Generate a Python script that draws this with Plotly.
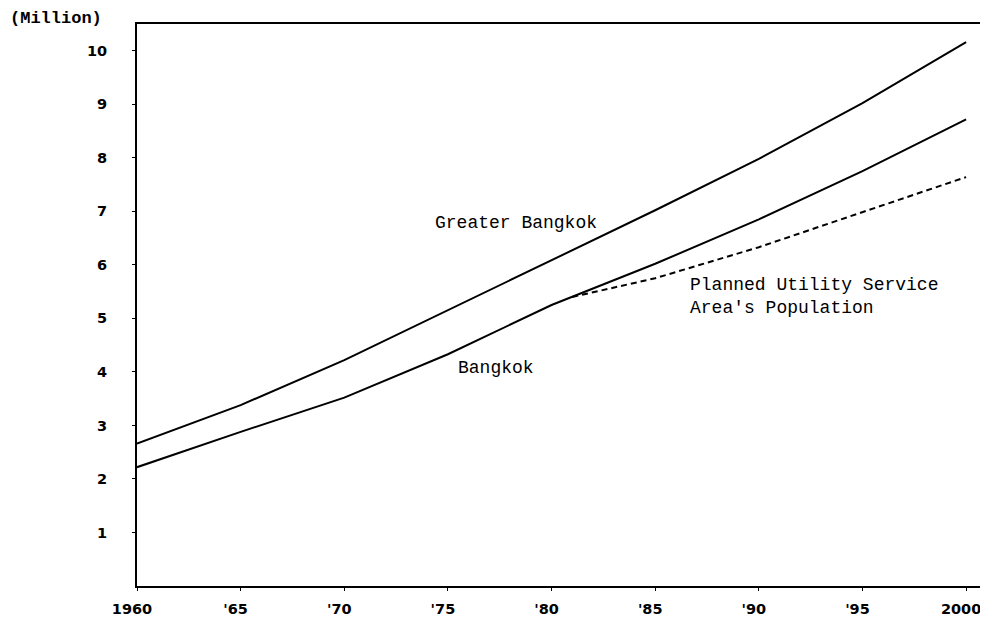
import plotly.graph_objects as go

years = [1960, 1965, 1970, 1975, 1980, 1985, 1990, 1995, 2000]
greater_bangkok = [2.66, 3.38, 4.22, 5.15, 6.08, 7.02, 7.98, 9.02, 10.16]
bangkok = [2.22, 2.88, 3.52, 4.33, 5.25, 6.02, 6.85, 7.75, 8.72]
planned_years = [1981, 1985, 1990, 1995, 2000]
planned = [5.40, 5.75, 6.33, 6.98, 7.64]

x_tickvals = [1960, 1965, 1970, 1975, 1980, 1985, 1990, 1995, 2000]
x_ticktext = ["1960", "'65", "'70", "'75", "'80", "'85", "'90", "'95", "2000"]
y_tickvals = [1, 2, 3, 4, 5, 6, 7, 8, 9, 10]

fig = go.Figure()
fig.add_trace(go.Scatter(x=years, y=greater_bangkok, mode="lines",
                         line=dict(color="black", width=2), name="Greater Bangkok"))
fig.add_trace(go.Scatter(x=years, y=bangkok, mode="lines",
                         line=dict(color="black", width=2), name="Bangkok"))
fig.add_trace(go.Scatter(x=planned_years, y=planned, mode="lines",
                         line=dict(color="black", width=2, dash="6px,4px"),
                         name="Planned Utility Service Area's Population"))

mono = "Liberation Mono, Courier New, monospace"
xtickfont = dict(family="DejaVu Sans, Arial", size=14.5, color="black", weight="bold")
ytickfont = dict(family="DejaVu Sans, Arial", size=14.5, color="black", weight="bold")

fig.update_layout(
    width=972, height=608,
    margin=dict(l=129, r=0, t=16, b=30, autoexpand=False),
    paper_bgcolor="white", plot_bgcolor="white",
    showlegend=False,
    xaxis=dict(range=[1960, 2000.67], tickvals=x_tickvals, ticktext=x_ticktext,
               showgrid=False, zeroline=False, showline=True, mirror=True,
               linecolor="black", linewidth=2, ticks="outside", ticklen=3,
               tickcolor="black", tickfont=xtickfont, ticklabelstandoff=6,
               ticklabelshift=-5, ticklabeloverflow="allow"),
    yaxis=dict(range=[0, 10.5], tickvals=y_tickvals,
               showgrid=False, zeroline=False, showline=True, mirror=True,
               linecolor="black", linewidth=2, ticks="outside", ticklen=3,
               tickcolor="black", tickfont=ytickfont, ticklabelstandoff=22,
               ticklabeloverflow="allow"),
    annotations=[
        dict(text="(Million)", xref="paper", yref="paper", x=-0.1528, y=1.0125,
             xanchor="left", yanchor="middle", yshift=-2, showarrow=False,
             font=dict(family=mono, size=17, color="black", weight="bold")),
        dict(text="Greater Bangkok", x=1978.3, y=6.79, showarrow=False,
             font=dict(family=mono, size=18, color="black")),
        dict(text="Bangkok", x=1977.3, y=4.08, showarrow=False,
             font=dict(family=mono, size=18, color="black")),
        dict(text="Planned Utility Service<br>Area's Population", x=1986.6, y=5.41,
             xanchor="left", align="left", showarrow=False,
             font=dict(family=mono, size=18, color="black")),
    ],
)

fig.write_html("out.html")
